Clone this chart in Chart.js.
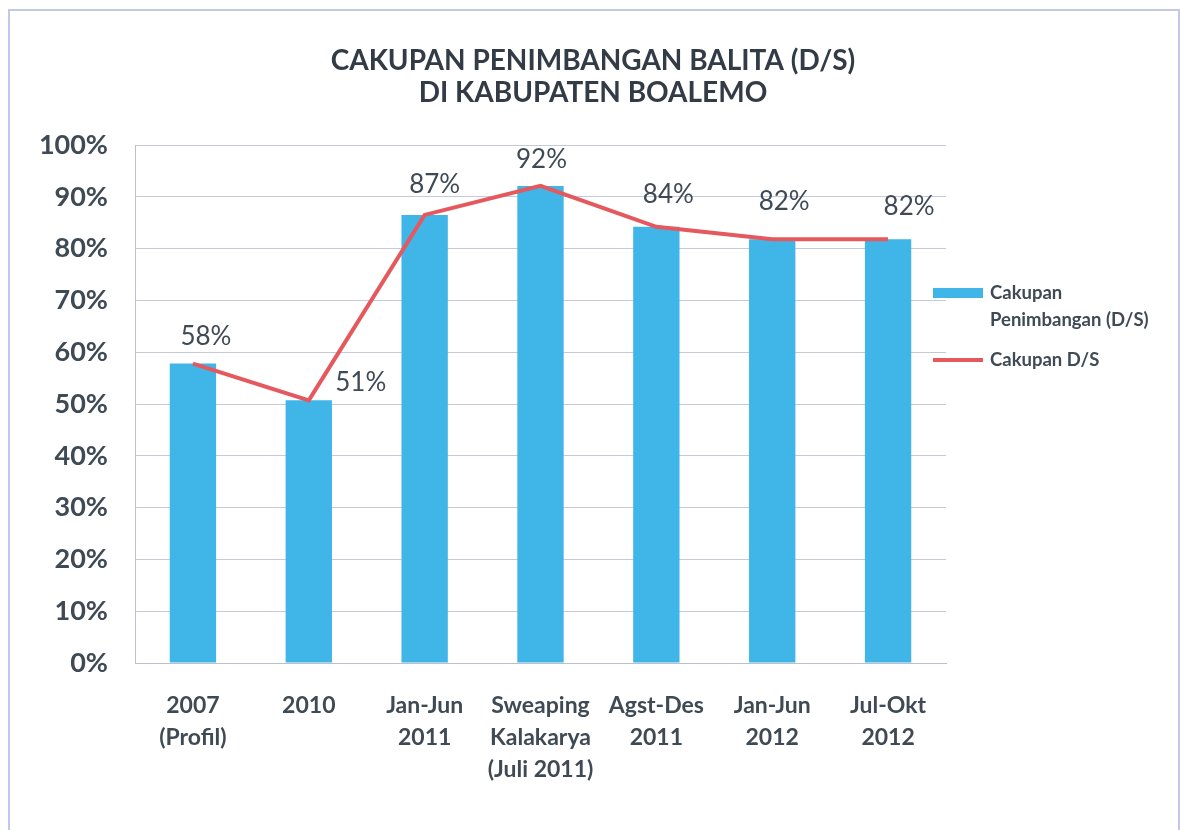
<!DOCTYPE html>
<html>
<head>
<meta charset="utf-8">
<script src="https://cdn.jsdelivr.net/npm/chart.js@4.4.0/dist/chart.umd.min.js"></script>
<style>
html,body{margin:0;padding:0;background:#fff;}
#wrap{width:1180px;height:830px;position:relative;}
</style>
</head>
<body>
<div id="wrap"><canvas id="c" width="1180" height="830"></canvas></div>
<script>
// ---- data ----
const categories = [
  ['2007', '(Profil)'],
  ['2010'],
  ['Jan-Jun', '2011'],
  ['Sweaping', 'Kalakarya', '(Juli 2011)'],
  ['Agst-Des', '2011'],
  ['Jan-Jun', '2012'],
  ['Jul-Okt', '2012']
];
const barValues  = [57.8, 50.7, 86.5, 92.1, 84.2, 81.8, 81.8];
const lineValues = [57.8, 50.7, 86.5, 92.1, 84.2, 81.8, 81.8];
const valueLabels = ['58%', '51%', '87%', '92%', '84%', '82%', '82%'];
const seriesNames = ['Cakupan Penimbangan (D/S)', 'Cakupan D/S'];
const legendLines = [['Cakupan', 'Penimbangan (D/S)'], ['Cakupan D/S']];
const titleLines = ['CAKUPAN PENIMBANGAN BALITA (D/S)', 'DI KABUPATEN BOALEMO'];
const yMin = 0, yMax = 100, yStep = 10;

// ---- style ----
const FONT = 'Lato, "Open Sans", sans-serif';
const TEXT = '#3f4a55';
const BAR_COLOR = '#40b5e8';
const LINE_COLOR = '#e5585d';
const labelOffsets = [[13,-27],[52,-18],[10,-30],[1,-26],[12,-32],[12,-38],[21,-33]];

const framePlugin = {
  id: 'frame',
  beforeDraw(chart) {
    const ctx = chart.ctx;
    ctx.save();
    ctx.fillStyle = '#ffffff';
    ctx.fillRect(0, 0, chart.width, chart.height);
    ctx.strokeStyle = '#c3c8e6';
    ctx.lineWidth = 2;
    ctx.strokeRect(9, 10, 1170, 840);
    ctx.restore();
  }
};

const titlePlugin = {
  id: 'centerTitle',
  afterDraw(chart) {
    const ctx = chart.ctx;
    ctx.save();
    ctx.font = 'bold 28px ' + FONT;
    ctx.fillStyle = '#333c46';
    ctx.textAlign = 'center';
    ctx.textBaseline = 'middle';
    titleLines.forEach((t, i) => ctx.fillText(t, chart.width / 2 + 3, 61 + i * 32));
    ctx.restore();
  }
};

const valueLabelPlugin = {
  id: 'valueLabels',
  afterDatasetsDraw(chart) {
    const ctx = chart.ctx;
    const meta = chart.getDatasetMeta(0);
    ctx.save();
    ctx.font = '26px ' + FONT;
    ctx.fillStyle = TEXT;
    ctx.textAlign = 'center';
    ctx.textBaseline = 'middle';
    meta.data.forEach((el, i) => {
      const o = labelOffsets[i];
      ctx.fillText(valueLabels[i], el.x + o[0], el.y + o[1]);
    });
    ctx.restore();
  }
};

const legendPlugin = {
  id: 'customLegend',
  afterDraw(chart) {
    const ctx = chart.ctx;
    const a = chart.chartArea;
    const sx = a.right - 13;
    const tx = sx + 57;
    ctx.save();
    ctx.font = 'bold 18.5px ' + FONT;
    ctx.fillStyle = TEXT;
    ctx.textAlign = 'left';
    ctx.textBaseline = 'middle';
    let y = 293;
    ctx.fillStyle = chart.data.datasets[0].backgroundColor;
    ctx.fillRect(sx, y - 5, 50, 10);
    ctx.fillStyle = TEXT;
    legendLines[0].forEach((t, i) => ctx.fillText(t, tx, y + i * 27));
    y = 360;
    ctx.strokeStyle = chart.data.datasets[1].borderColor;
    ctx.lineWidth = 4;
    ctx.beginPath();
    ctx.moveTo(sx, y);
    ctx.lineTo(sx + 50, y);
    ctx.stroke();
    legendLines[1].forEach((t, i) => ctx.fillText(t, tx, y + i * 27));
    ctx.restore();
  }
};

new Chart(document.getElementById('c'), {
  data: {
    labels: categories,
    datasets: [
      {
        type: 'bar',
        label: seriesNames[0],
        data: barValues,
        backgroundColor: BAR_COLOR,
        barPercentage: 0.4,
        categoryPercentage: 1.0,
        order: 2
      },
      {
        type: 'line',
        label: seriesNames[1],
        data: lineValues,
        borderColor: LINE_COLOR,
        borderWidth: 4,
        pointRadius: 0,
        tension: 0,
        order: 1
      }
    ]
  },
  options: {
    responsive: false,
    devicePixelRatio: 1,
    animation: false,
    layout: { padding: { left: 0, right: 234, top: 145, bottom: 0 } },
    plugins: {
      legend: { display: false },
      tooltip: { enabled: false },
      title: { display: false }
    },
    scales: {
      x: {
        offset: true,
        grid: { display: false, drawTicks: false },
        border: { display: true, color: '#bcc0cc', width: 1 },
        ticks: {
          font: { family: FONT, size: 23, weight: 'bold', lineHeight: 1.39 },
          color: TEXT,
          padding: 27,
          maxRotation: 0,
          autoSkip: false
        },
        afterFit(s) { s.height = 167; }
      },
      y: {
        min: yMin,
        max: yMax,
        grid: { color: '#c6c9dc', lineWidth: 1, drawTicks: false },
        border: { display: true, color: '#bcc0cc', width: 1 },
        ticks: {
          stepSize: yStep,
          font: { family: FONT, size: 27, weight: 'bold' },
          color: TEXT,
          padding: 27,
          callback: v => v + '%'
        },
        afterFit(s) { s.width = 135; }
      }
    }
  },
  plugins: [framePlugin, titlePlugin, valueLabelPlugin, legendPlugin]
});
</script>
</body>
</html>
